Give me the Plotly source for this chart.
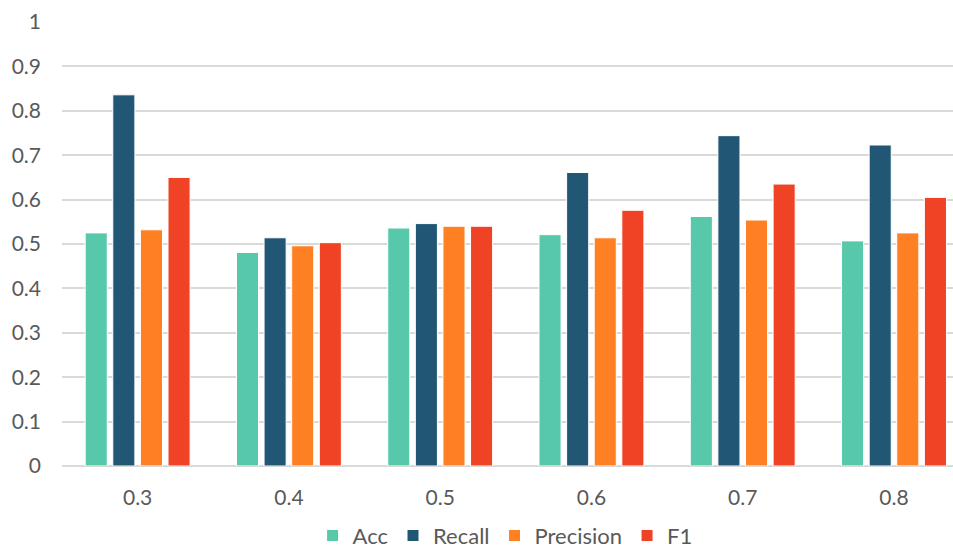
import plotly.graph_objects as go

# Threshold values on the x axis
thresholds = ["0.3", "0.4", "0.5", "0.6", "0.7", "0.8"]

# Metric values per threshold
acc = [0.525, 0.481, 0.536, 0.521, 0.562, 0.507]
recall = [0.836, 0.514, 0.546, 0.661, 0.744, 0.723]
precision = [0.532, 0.496, 0.540, 0.514, 0.554, 0.525]
f1 = [0.650, 0.503, 0.540, 0.576, 0.635, 0.605]

y_ticks = [0, 0.1, 0.2, 0.3, 0.4, 0.5, 0.6, 0.7, 0.8, 0.9, 1]
y_tick_text = ["0", "0.1", "0.2", "0.3", "0.4", "0.5", "0.6", "0.7", "0.8", "0.9", "1"]

series = [
    ("Acc", acc, "#58C8AB"),
    ("Recall", recall, "#215774"),
    ("Precision", precision, "#FF8022"),
    ("F1", f1, "#F04325"),
]

fig = go.Figure()
for name, vals, color in series:
    fig.add_trace(go.Bar(
        name=name,
        x=thresholds,
        y=vals,
        marker=dict(color=color, line=dict(color="white", width=1)),
    ))

font_family = "Lato, 'Open Sans', sans-serif"
text_color = "#595959"

fig.update_layout(
    width=953,
    height=550,
    margin=dict(l=62, r=0, t=22, b=84, autoexpand=False),
    paper_bgcolor="white",
    plot_bgcolor="white",
    barmode="group",
    bargap=0.27,
    bargroupgap=0.2,
    font=dict(family=font_family, size=21, color=text_color),
    showlegend=True,
    legend=dict(
        orientation="h",
        x=0.53, xref="container", xanchor="center",
        y=0.026, yref="container", yanchor="middle",
        font=dict(size=22, color=text_color),
        itemwidth=30,
        traceorder="normal",
        tracegroupgap=0,
    ),
    xaxis=dict(
        range=[-0.5, 5.39],
        showgrid=False,
        showline=False,
        ticks="",
        ticklabelstandoff=17,
        tickfont=dict(size=21, color=text_color),
    ),
    yaxis=dict(
        range=[0, 1],
        tickvals=y_ticks,
        ticktext=y_tick_text,
        showgrid=True,
        gridcolor="#D9D9D9",
        gridwidth=1.5,
        zeroline=True,
        zerolinecolor="#D9D9D9",
        zerolinewidth=1.5,
        showline=False,
        ticks="",
        ticklabelstandoff=20,
        tickfont=dict(size=21, color=text_color),
    ),
)

fig.write_html("out.html")
